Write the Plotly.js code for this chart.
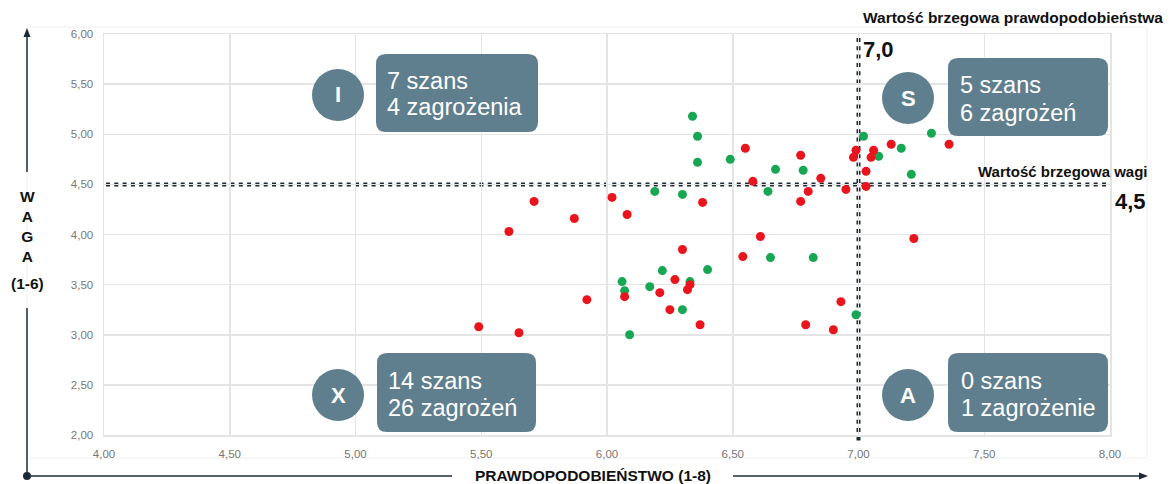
<!DOCTYPE html>
<html>
<head>
<meta charset="utf-8">
<script src="https://cdn.plot.ly/plotly-3.0.1.min.js"></script>
<style>html,body{margin:0;padding:0;background:#fff;}#chart{width:1173px;height:484px;}</style>
</head>
<body>
<div id="chart"></div>
<script>
// ---- data ----
const szanseX = [6.34, 6.36, 6.36, 6.49, 6.67, 6.78, 7.02, 7.08, 7.17, 7.29, 7.21, 6.19, 6.30, 6.64, 6.22, 6.06, 6.07, 6.17, 6.30, 6.09, 6.65, 6.82, 6.40, 6.33, 6.99];
const szanseY = [5.18, 4.98, 4.72, 4.75, 4.65, 4.64, 4.98, 4.78, 4.86, 5.01, 4.60, 4.43, 4.40, 4.43, 3.64, 3.53, 3.44, 3.48, 3.25, 3.00, 3.77, 3.77, 3.65, 3.53, 3.20];
const zagrozeniaX = [6.55, 6.77, 6.58, 6.85, 6.99, 6.98, 7.06, 7.05, 7.03, 7.13, 7.36, 7.03, 7.22, 5.71, 5.61, 5.87, 6.02, 6.08, 6.30, 6.27, 6.07, 6.21, 6.32, 6.33, 6.25, 5.92, 5.49, 5.65, 6.61, 6.54, 6.37, 6.79, 6.90, 6.93, 6.38, 6.80, 6.77, 6.95];
const zagrozeniaY = [4.86, 4.79, 4.53, 4.56, 4.84, 4.77, 4.84, 4.77, 4.63, 4.90, 4.90, 4.48, 3.96, 4.33, 4.03, 4.16, 4.37, 4.20, 3.85, 3.55, 3.38, 3.42, 3.45, 3.50, 3.25, 3.35, 3.08, 3.02, 3.98, 3.78, 3.10, 3.10, 3.05, 3.33, 4.32, 4.43, 4.33, 4.45];
const progPrawd = 7.0;
const progWagi = 4.5;
const quadLetters = ['I', 'S', 'X', 'A'];
const quadLine1 = ['7 szans', '5 szans', '14 szans', '0 szans'];
const quadLine2 = ['4 zagrożenia', '6 zagrożeń', '26 zagrożeń', '1 zagrożenie'];
const xTitle = 'PRAWDOPODOBIEŃSTWO (1-8)';
const yTitleLetters = 'W<br>A<br>G<br>A';
const yTitleRange = '(1-6)';
const labelPrawd = 'Wartość brzegowa prawdopodobieństwa';
const labelWagi = 'Wartość brzegowa wagi';
const labelPrawdVal = '7,0';
const labelWagiVal = '4,5';

// ---- layout helpers (pixel -> paper) ----
const W = 1173, H = 484;
const L = 104, R = 1110, T = 34, B = 435;
const PX = p => (p - L) / (R - L);
const PY = p => (B - p) / (B - T);
const INK = '#1c2a38';
const BOX = '#5f7f8e';
const FONT = 'Liberation Sans, Arial, Helvetica, sans-serif';

function rrect(x0, y0, x1, y1, r) {
  const f = (x, y) => PX(x) + ',' + PY(y);
  return 'M ' + f(x0 + r, y0) + ' L ' + f(x1 - r, y0) + ' Q ' + f(x1, y0) + ' ' + f(x1, y0 + r) +
    ' L ' + f(x1, y1 - r) + ' Q ' + f(x1, y1) + ' ' + f(x1 - r, y1) +
    ' L ' + f(x0 + r, y1) + ' Q ' + f(x0, y1) + ' ' + f(x0, y1 - r) +
    ' L ' + f(x0, y0 + r) + ' Q ' + f(x0, y0) + ' ' + f(x0 + r, y0) + ' Z';
}
function tri(pts) {
  return 'M ' + pts.map(p => PX(p[0]) + ',' + PY(p[1])).join(' L ') + ' Z';
}

// quadrant badge geometry (pixels): circle centre, box rect, text left, line centres
const badges = [
  {cx: 338, cy: 95, r: 26, bx0: 376, by0: 54, bx1: 538, by1: 132, tx: 385, l1: 81, l2: 107},
  {cx: 908, cy: 98, r: 26, bx0: 948, by0: 58, bx1: 1108, by1: 136, tx: 958, l1: 85, l2: 113},
  {cx: 338, cy: 395, r: 26, bx0: 377, by0: 353, bx1: 536, by1: 432, tx: 386, l1: 381, l2: 408},
  {cx: 908, cy: 395, r: 26, bx0: 948, by0: 353, bx1: 1108, by1: 432, tx: 959, l1: 381, l2: 408}
];

const shapes = [];
const annotations = [];

// faint outer frame
shapes.push({type: 'rect', xref: 'paper', yref: 'paper', x0: PX(27), x1: PX(1147), y0: PY(27), y1: PY(458),
  line: {color: '#efefef', width: 1}, layer: 'below'});

// threshold dotted lines
shapes.push({type: 'line', xref: 'x', yref: 'paper', x0: progPrawd, x1: progPrawd, y0: PY(38), y1: PY(443),
  line: {color: INK, width: 4, dash: '4px,4.3px'}, layer: 'below'});
shapes.push({type: 'line', xref: 'paper', yref: 'y', x0: PX(106), x1: PX(1107), y0: progWagi, y1: progWagi,
  line: {color: INK, width: 4, dash: '4px,4.3px'}, layer: 'below'});

// outer axis arrows
const ax = 27, ay = 476;
shapes.push({type: 'line', xref: 'paper', yref: 'paper', x0: PX(ax), x1: PX(ax), y0: PY(35), y1: PY(172), line: {color: INK, width: 1.5}});
shapes.push({type: 'line', xref: 'paper', yref: 'paper', x0: PX(ax), x1: PX(ax), y0: PY(308), y1: PY(ay), line: {color: INK, width: 1.5}});
shapes.push({type: 'path', xref: 'paper', yref: 'paper', path: tri([[ax, 28], [ax - 3.5, 37], [ax + 3.5, 37]]), fillcolor: INK, line: {width: 0}});
shapes.push({type: 'line', xref: 'paper', yref: 'paper', x0: PX(ax), x1: PX(452), y0: PY(ay), y1: PY(ay), line: {color: INK, width: 1.5}});
shapes.push({type: 'line', xref: 'paper', yref: 'paper', x0: PX(733), x1: PX(1140), y0: PY(ay), y1: PY(ay), line: {color: INK, width: 1.5}});
shapes.push({type: 'path', xref: 'paper', yref: 'paper', path: tri([[1148, ay], [1139, ay - 3.5], [1139, ay + 3.5]]), fillcolor: INK, line: {width: 0}});
shapes.push({type: 'circle', xref: 'paper', yref: 'paper', x0: PX(ax - 4), x1: PX(ax + 4), y0: PY(ay + 4), y1: PY(ay - 4), fillcolor: INK, line: {width: 0}});

// quadrant badges
badges.forEach((b, i) => {
  shapes.push({type: 'circle', xref: 'paper', yref: 'paper', x0: PX(b.cx - b.r), x1: PX(b.cx + b.r),
    y0: PY(b.cy + b.r), y1: PY(b.cy - b.r), fillcolor: BOX, line: {width: 0}});
  shapes.push({type: 'path', xref: 'paper', yref: 'paper', path: rrect(b.bx0, b.by0, b.bx1, b.by1, 10),
    fillcolor: BOX, line: {width: 0}});
  annotations.push({xref: 'paper', yref: 'paper', x: PX(b.cx), y: PY(b.cy), text: '<b>' + quadLetters[i] + '</b>',
    showarrow: false, xanchor: 'center', yanchor: 'middle', font: {family: FONT, size: 22, color: '#ffffff'}});
  annotations.push({xref: 'paper', yref: 'paper', x: PX(b.tx), y: PY(b.l1), text: quadLine1[i],
    showarrow: false, xanchor: 'left', yanchor: 'middle', align: 'left', font: {family: FONT, size: 23.5, color: '#ffffff'}});
  annotations.push({xref: 'paper', yref: 'paper', x: PX(b.tx), y: PY(b.l2), text: quadLine2[i],
    showarrow: false, xanchor: 'left', yanchor: 'middle', align: 'left', font: {family: FONT, size: 23.5, color: '#ffffff'}});
});

// threshold labels
annotations.push({xref: 'paper', yref: 'paper', x: PX(861), y: PY(17), text: '<b>' + labelPrawd + '</b>', showarrow: false,
  xanchor: 'left', yanchor: 'middle', font: {family: FONT, size: 15.5, color: '#111'}});
annotations.push({xref: 'paper', yref: 'paper', x: PX(861), y: PY(50), text: '<b>' + labelPrawdVal + '</b>', showarrow: false,
  xanchor: 'left', yanchor: 'middle', font: {family: FONT, size: 22, color: '#111'}});
annotations.push({xref: 'paper', yref: 'paper', x: PX(1149), y: PY(171), text: '<b>' + labelWagi + '</b>', showarrow: false,
  xanchor: 'right', yanchor: 'middle', font: {family: FONT, size: 15, color: '#111'}});
annotations.push({xref: 'paper', yref: 'paper', x: PX(1113), y: PY(201), text: '<b>' + labelWagiVal + '</b>', showarrow: false,
  xanchor: 'left', yanchor: 'middle', font: {family: FONT, size: 22, color: '#111'}});

// axis titles
annotations.push({xref: 'paper', yref: 'paper', x: PX(593), y: PY(475), text: '<b>' + xTitle + '</b>', showarrow: false,
  xanchor: 'center', yanchor: 'middle', font: {family: FONT, size: 15.5, color: '#111'}});
annotations.push({xref: 'paper', yref: 'paper', x: PX(ax), y: PY(226), text: '<b>' + yTitleLetters + '</b>', showarrow: false,
  xanchor: 'center', yanchor: 'middle', align: 'center', font: {family: FONT, size: 15.5, color: '#111'}});
annotations.push({xref: 'paper', yref: 'paper', x: PX(ax), y: PY(283), text: '<b>' + yTitleRange + '</b>', showarrow: false,
  xanchor: 'center', yanchor: 'middle', font: {family: FONT, size: 15.5, color: '#111'}});

const traces = [
  {type: 'scatter', mode: 'markers', name: 'Szanse', x: szanseX, y: szanseY,
    marker: {color: '#17a652', size: 9, line: {width: 0}}},
  {type: 'scatter', mode: 'markers', name: 'Zagrożenia', x: zagrozeniaX, y: zagrozeniaY,
    marker: {color: '#e9141c', size: 9, line: {width: 0}}}
];

const axisCommon = {
  showgrid: true, gridcolor: '#e4e4e4', gridwidth: 1.5, zeroline: false,
  showline: true, linecolor: '#e4e4e4', linewidth: 1.5, mirror: true,
  ticks: '', tickformat: '.2f', dtick: 0.5,
  tickfont: {family: FONT, size: 11.5, color: '#777'}
};

const layout = {
  width: W, height: H,
  margin: {l: L, r: W - R, t: T, b: H - B, pad: 0},
  paper_bgcolor: '#ffffff', plot_bgcolor: '#ffffff',
  separators: ', ',
  showlegend: false,
  xaxis: Object.assign({}, axisCommon, {range: [4, 8], tick0: 4, ticklabelstandoff: 8, fixedrange: true}),
  yaxis: Object.assign({}, axisCommon, {range: [2, 6], tick0: 2, ticklabelstandoff: 7, fixedrange: true}),
  shapes: shapes,
  annotations: annotations
};

Plotly.newPlot('chart', traces, layout, {displayModeBar: false, staticPlot: true});
</script>
</body>
</html>
